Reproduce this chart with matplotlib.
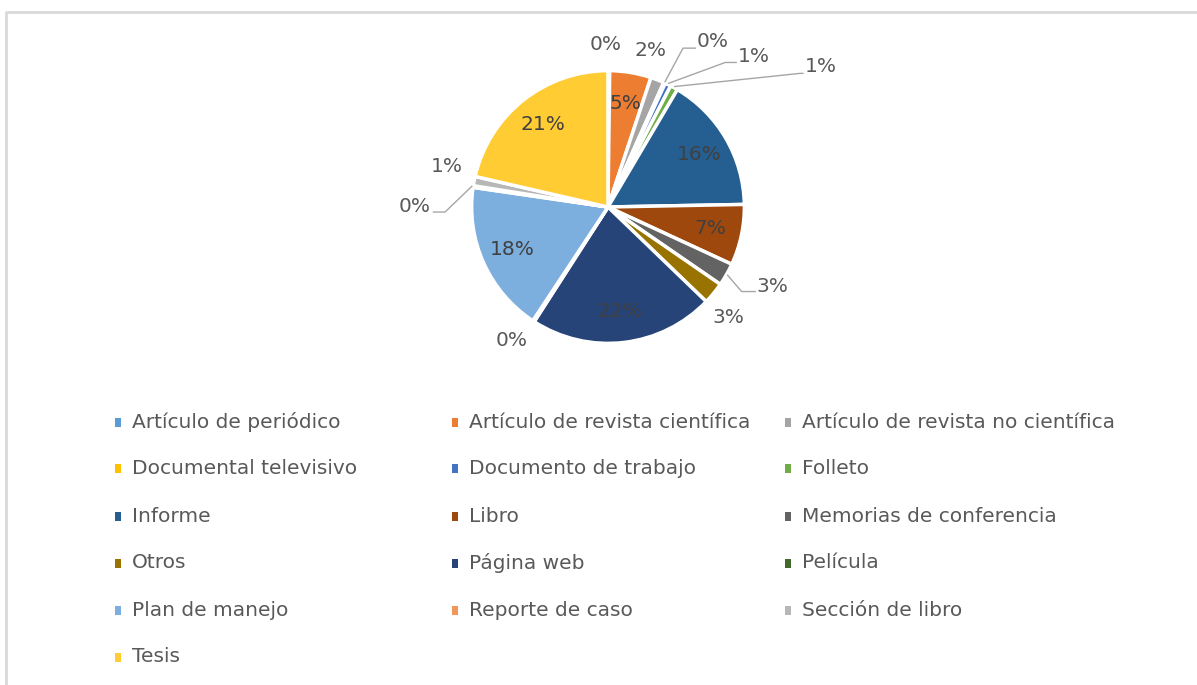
import numpy as np
import matplotlib
matplotlib.use("Agg")
import matplotlib.pyplot as plt
from matplotlib.patches import Rectangle
from matplotlib.lines import Line2D

plt.rcParams['font.family'] = ['DejaVu Sans']

# data (percent of references by type)
categories = [
    "Artículo de periódico", "Artículo de revista científica",
    "Artículo de revista no científica", "Documental televisivo",
    "Documento de trabajo", "Folleto", "Informe", "Libro",
    "Memorias de conferencia", "Otros", "Página web", "Película",
    "Plan de manejo", "Reporte de caso", "Sección de libro", "Tesis",
]
values = [0.2, 4.9, 1.6, 0.2, 0.7, 0.9, 16.2, 7.2, 2.7, 2.6, 21.9, 0.2,
          18.0, 0.2, 1.1, 21.4]
pct_labels = ["0%", "5%", "2%", "0%", "1%", "1%", "16%", "7%", "3%", "3%",
              "22%", "0%", "18%", "0%", "1%", "21%"]
colors = ["#5B9BD5", "#ED7D31", "#A5A5A5", "#FFC000", "#4472C4", "#70AD47",
          "#255E91", "#9E480E", "#636363", "#997300", "#264478", "#43682B",
          "#7CAFDD", "#F1975A", "#B7B7B7", "#FFCD33"]

W, H = 1197, 685
fig = plt.figure(figsize=(W / 100, H / 100), dpi=100)

# chart border (top and left edges only are visible)
fig.lines.append(Line2D([5.5 / W, 5.5 / W, 1.0], [0.0, (H - 12) / H, (H - 12) / H],
                        transform=fig.transFigure, color="#D9D9D9", linewidth=2))

# pie axes: centre (608, 207) px, radius ~136 px
cx, cy, half = 608, 207, 150
ax = fig.add_axes([(cx - half) / W, (H - cy - half) / H, 2 * half / W, 2 * half / H])

wedges, _ = ax.pie(values, colors=colors, startangle=90, counterclock=False,
                   radius=1.0, wedgeprops=dict(edgecolor="white", linewidth=2.5))
ax.set_xlim(-1.1, 1.1)
ax.set_ylim(-1.1, 1.1)
ax.set_aspect("equal")
ax.axis("off")

inner = {1, 6, 7, 10, 12, 15}
# outside labels: text position (data units), alignment, leader (elbow, end) or None
outside = {
    0: ((-0.015, 1.19), "center", None),
    2: ((0.31, 1.15), "center", None),
    3: ((0.65, 1.215), "left", ((0.55, 1.165), (0.64, 1.165))),
    4: ((0.95, 1.10), "left", ((0.86, 1.06), (0.94, 1.06))),
    5: ((1.44, 1.03), "left", ((1.41, 0.98), (1.43, 0.98))),
    8: ((1.09, -0.58), "left", ((0.98, -0.62), (1.08, -0.62))),
    9: ((0.88, -0.81), "center", None),
    11: ((-0.71, -0.98), "center", None),
    13: ((-1.30, 0.005), "right", ((-1.195, -0.037), (-1.28, -0.037))),
    14: ((-1.18, 0.30), "center", None),
}

for i, w in enumerate(wedges):
    mid = np.deg2rad((w.theta1 + w.theta2) / 2)
    if i in inner:
        r = 0.77
        ax.text(r * np.cos(mid), r * np.sin(mid), pct_labels[i], ha="center",
                va="center", fontsize=14.5, color="#404040")
    else:
        (tx, ty), ha, leader = outside[i]
        ax.text(tx, ty, pct_labels[i], ha=ha, va="center", fontsize=14.5,
                color="#595959", clip_on=False)
        if leader is not None:
            (ex, ey), (fx, fy) = leader
            sx, sy = 1.01 * np.cos(mid), 1.01 * np.sin(mid)
            ax.plot([sx, ex, fx], [sy, ey, fy], color="#A6A6A6", linewidth=1,
                    clip_on=False)

# legend, row by row in three fixed-width columns
col_x = [118, 455, 788]
row_y = [422, 468, 516, 563, 610, 657]
for i, (name, c) in enumerate(zip(categories, colors)):
    row, col = divmod(i, 3)
    mx, my = col_x[col], row_y[row]
    fig.patches.append(Rectangle(((mx - 3) / W, (H - my - 4.5) / H), 6 / W, 9 / H,
                                 transform=fig.transFigure, facecolor=c,
                                 edgecolor="none"))
    fig.text((mx + 14) / W, (H - my) / H, name, ha="left", va="center",
             fontsize=14.5, color="#595959")

fig.savefig("out.png", dpi=100, facecolor="white")
